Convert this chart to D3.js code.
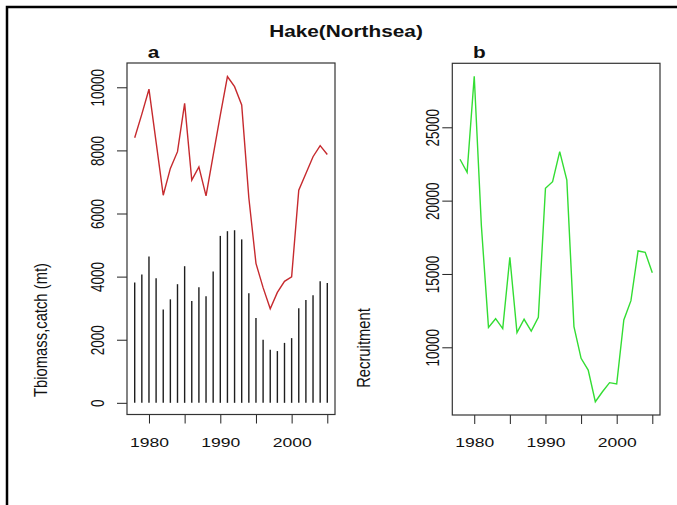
<!DOCTYPE html>
<html>
<head>
<meta charset="utf-8">
<script src="https://cdn.jsdelivr.net/npm/d3@7"></script>
<style>
  body { margin: 0; background: #fff; }
  text { font-family: "Liberation Sans", Arial, sans-serif; fill: #111; }
</style>
</head>
<body>
<div id="chart"></div>
<script>
// Hake (Northsea) - total biomass, catch and recruitment by year
years = [1978, 1979, 1980, 1981, 1982, 1983, 1984, 1985, 1986, 1987, 1988, 1989, 1990, 1991,
         1992, 1993, 1994, 1995, 1996, 1997, 1998, 1999, 2000, 2001, 2002, 2003, 2004, 2005];
biomass = [8400, 9150, 9940, 8260, 6580, 7430, 7960, 9490, 7060, 7480, 6560, 7840, 9120, 10340,
           10020, 9440, 6500, 4420, 3650, 2980, 3500, 3850, 3990, 6740, 7270, 7800, 8150, 7870];
catchMt = [3810, 4070, 4640, 3950, 2960, 3280, 3760, 4330, 3230, 3660, 3380, 4160, 5290, 5440,
           5470, 5180, 3470, 2690, 2000, 1680, 1640, 1900, 2050, 3000, 3260, 3410, 3850, 3800];
recruitment = [22820, 21930, 28480, 18300, 11360, 11950, 11270, 16140, 11000, 11910, 11110, 12050, 20840, 21290,
               23340, 21400, 11400, 9250, 8450, 6290, 6970, 7590, 7500, 11860, 13180, 16570, 16480, 15090];

xTicks = [1980, 1985, 1990, 1995, 2000, 2005];
xTickLabels = ["1980", "", "1990", "", "2000", ""];
yTicksA = [0, 2000, 4000, 6000, 8000, 10000];
yTicksB = [10000, 15000, 20000, 25000];

let W = 677, H = 505;
let SX = 1.3; // the picture is stretched sideways, text too

let svg = d3.select('#chart').append('svg')
    .attr('width', W)
    .attr('height', H);

// outer frame (only left and top show)
svg.append('path')
    .attr('d', `M7,${H} V7 H${W}`)
    .attr('fill', 'none')
    .attr('stroke', '#000')
    .attr('stroke-width', 2.5);

function stretchText(g, x, y, txt, size, weight, rotate) {
    return g.append('text')
        .attr('transform', `translate(${x},${y}) scale(${SX},1)` + (rotate ? ' rotate(-90)' : ''))
        .attr('text-anchor', 'middle')
        .style('font-size', size + 'px')
        .style('font-weight', weight)
        .text(txt);
}

// title
stretchText(svg, 346, 37, 'Hake(Northsea)', 16, 'bold', false);

function drawPanel(opts) {
    let x = d3.scaleLinear().domain([1976.92, 2006.08]).range([opts.x0, opts.x1]);
    let y = d3.scaleLinear().domain(opts.yDomain).range([opts.y1, opts.y0]);

    let g = svg.append('g');

    // x axis
    let xa = g.append('g')
        .attr('transform', `translate(0,${opts.y1})`)
        .call(d3.axisBottom(x).tickValues(xTicks).tickSize(9).tickFormat((d, i) => xTickLabels[i]));
    xa.select('.domain').remove();
    xa.selectAll('line').attr('stroke', '#222');
    xa.selectAll('text')
        .attr('y', 0).attr('dy', 0)
        .attr('transform', `translate(0,32) scale(${SX},1)`)
        .style('font-size', '13.5px')
        .style('font-family', '"Liberation Sans", Arial, sans-serif')
        .attr('fill', '#111');

    // y axis
    let ya = g.append('g')
        .attr('transform', `translate(${opts.x0},0)`)
        .call(d3.axisLeft(y).tickValues(opts.yTicks).tickSize(10).tickFormat(d3.format('d')));
    ya.select('.domain').remove();
    ya.selectAll('line').attr('stroke', '#222');
    ya.selectAll('text')
        .attr('x', 0).attr('y', 0).attr('dy', 0)
        .attr('text-anchor', 'middle')
        .attr('transform', `translate(${-opts.labelGap},0) scale(${SX},1) rotate(-90)`)
        .style('font-size', '13.5px')
        .style('font-family', '"Liberation Sans", Arial, sans-serif')
        .attr('fill', '#111');

    // box
    g.append('rect')
        .attr('x', opts.x0).attr('y', opts.y0)
        .attr('width', opts.x1 - opts.x0).attr('height', opts.y1 - opts.y0)
        .attr('fill', 'none')
        .attr('stroke', '#333')
        .attr('stroke-width', 1.2);

    // panel letter
    g.append('text')
        .attr('transform', `translate(${opts.x0 + 0.1 * (opts.x1 - opts.x0)},58) scale(${SX},1)`)
        .style('font-size', '16px')
        .style('font-weight', 'bold')
        .text(opts.letter);

    // y label
    stretchText(g, opts.ylabX, opts.ylabY, opts.ylab, 14.8, 'normal', true);

    return { g: g, x: x, y: y };
}

// panel a: biomass (line) and catch (vertical bars)
let pa = drawPanel({
    x0: 127, x1: 335, y0: 63, y1: 414.5,
    yDomain: [-370, 10770], yTicks: yTicksA, labelGap: 23,
    letter: 'a', ylab: 'Tbiomass,catch (mt)', ylabX: 47, ylabY: 330
});

pa.g.selectAll('.catch')
    .data(years)
    .enter().append('line')
    .attr('class', 'catch')
    .attr('x1', d => pa.x(d))
    .attr('x2', d => pa.x(d))
    .attr('y1', pa.y(0))
    .attr('y2', (d, i) => pa.y(catchMt[i]))
    .attr('stroke', '#1e1e1e')
    .attr('stroke-width', 1.4);

pa.g.append('path')
    .datum(years)
    .attr('fill', 'none')
    .attr('stroke', '#c62a2e')
    .attr('stroke-width', 1.4)
    .attr('d', d3.line().x(d => pa.x(d)).y((d, i) => pa.y(biomass[i])));

// panel b: recruitment
let pb = drawPanel({
    x0: 452.3, x1: 660, y0: 63.3, y1: 415,
    yDomain: [5384, 29364], yTicks: yTicksB, labelGap: 13,
    letter: 'b', ylab: 'Recruitment', ylabX: 370, ylabY: 348
});

pb.g.append('path')
    .datum(years)
    .attr('fill', 'none')
    .attr('stroke', '#33dd33')
    .attr('stroke-width', 1.4)
    .attr('d', d3.line().x(d => pb.x(d)).y((d, i) => pb.y(recruitment[i])));
</script>
</body>
</html>
